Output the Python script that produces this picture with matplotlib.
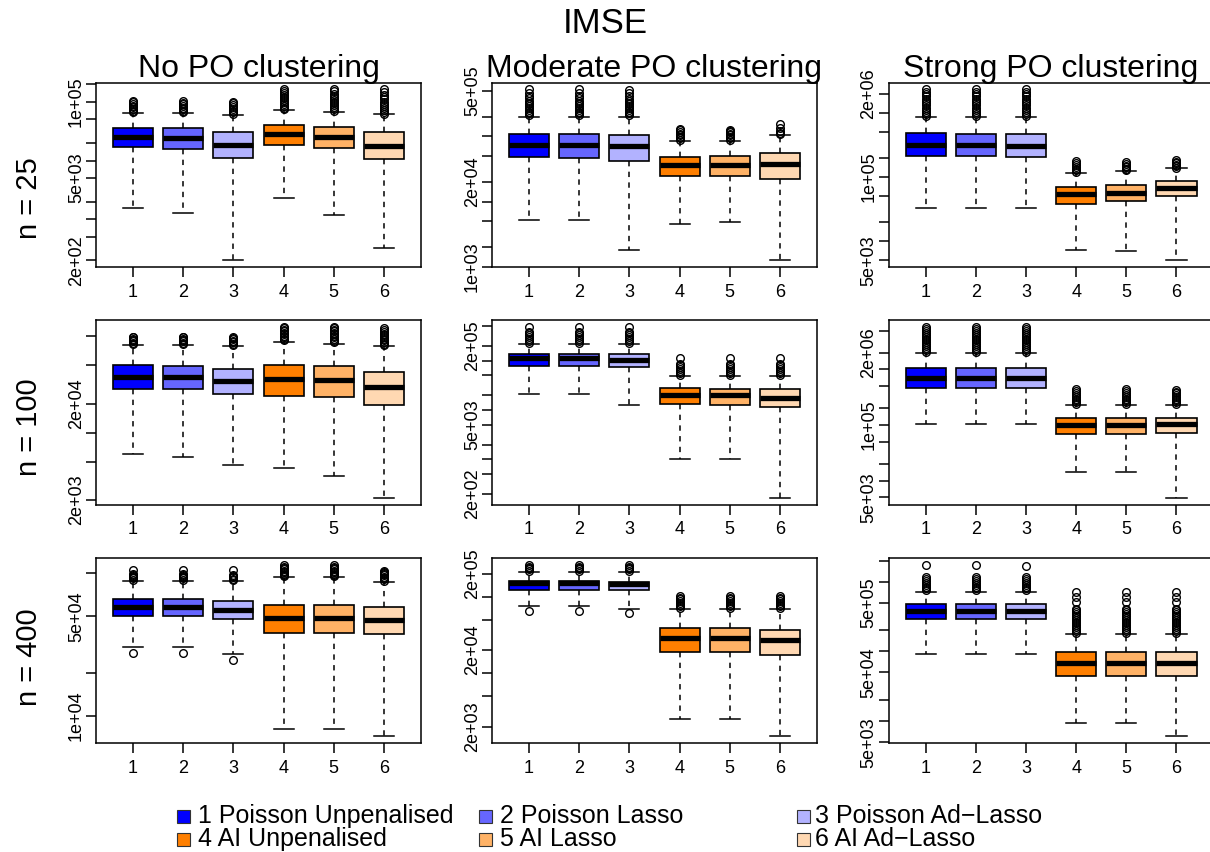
import numpy as np
import matplotlib
matplotlib.use("Agg")
import matplotlib.pyplot as plt
from matplotlib.patches import Rectangle
from matplotlib.ticker import FixedLocator, FixedFormatter

plt.rcParams['font.family'] = ['Liberation Sans', 'DejaVu Sans']

# ---------- data (panels in row-major order) ----------
columns = ["No PO clustering", "Moderate PO clustering", "Strong PO clustering"]
rows = ["n = 25", "n = 100", "n = 400"]
methods = ["1 Poisson Unpenalised", "2 Poisson Lasso", "3 Poisson Ad\u2212Lasso",
           "4 AI Unpenalised", "5 AI Lasso", "6 AI Ad\u2212Lasso"]
colors = ["#0000FF", "#6666FF", "#B2B2FF", "#FF7F00", "#FFB266", "#FFD8B2"]

whisk_lo = [
    [1580, 1290, 200, 2340, 1170, 328],
    [5280, 5280, 1820, 4590, 4850, 1265],
    [32400, 32400, 32400, 7180, 7000, 5000],
    [6020, 5600, 4590, 4320, 3570, 2100],
    [20700, 20700, 12700, 1020, 1020, 168],
    [106000, 106000, 106000, 14000, 14000, 4900],
    [30700, 30700, 27000, 8070, 8070, 7250],
    [75600, 75600, 69700, 2520, 2520, 1500],
    [92000, 92000, 92000, 9570, 9570, 6150],
]
q1 = [
    [17100, 16000, 11100, 18300, 16400, 10800],
    [48700, 47000, 42300, 24400, 24400, 22500],
    [209000, 209000, 205000, 37900, 41700, 50600],
    [28600, 28600, 25000, 24000, 23600, 19500],
    [76000, 76000, 72600, 13000, 12600, 11500],
    [472000, 472000, 472000, 69700, 69700, 71500],
    [50000, 50000, 48200, 38300, 38300, 37400],
    [123000, 123000, 121000, 19000, 19000, 17200],
    [292000, 292000, 292000, 44100, 44100, 44100],
]
median = [
    [25600, 24600, 18700, 28100, 25600, 18000],
    [75000, 73400, 70000, 35900, 36800, 38100],
    [316000, 311000, 305000, 53700, 56300, 68200],
    [38300, 38000, 34500, 36200, 35300, 29700],
    [112000, 110000, 102000, 19700, 19700, 17600],
    [715000, 715000, 715000, 101000, 101000, 104000],
    [57800, 57800, 55700, 48500, 48500, 46900],
    [149000, 149000, 145000, 28700, 28700, 27300],
    [377000, 384000, 384000, 67700, 67700, 67700],
]
q3 = [
    [36300, 35500, 30400, 39900, 37800, 31100],
    [110000, 108000, 104000, 48700, 49200, 56000],
    [488000, 475000, 475000, 70000, 74300, 85900],
    [50500, 49800, 46300, 50500, 49800, 42700],
    [137000, 137000, 133000, 27300, 26800, 26100],
    [1080000, 1080000, 1080000, 136000, 136000, 136000],
    [65800, 65800, 64400, 60400, 60400, 58200],
    [160000, 160000, 158000, 38700, 38700, 37100],
    [470000, 470000, 470000, 98400, 98400, 98400],
]
whisk_hi = [
    [63700, 63700, 59700, 71600, 67900, 61300],
    [200000, 200000, 200000, 85400, 85400, 106000],
    [857000, 857000, 857000, 116000, 122000, 136000],
    [81100, 81100, 79300, 88600, 84500, 78700],
    [217000, 217000, 217000, 48400, 48400, 48400],
    [1990000, 1990000, 1990000, 226000, 226000, 226000],
    [88500, 88500, 87900, 93800, 93500, 86500],
    [212000, 212000, 212000, 68500, 68500, 68500],
    [711000, 711000, 711000, 176000, 176000, 176000],
]
outliers = [
    [[66000, 70000, 75000, 80000, 86000, 92000, 98000, 103000],
     [66000, 70000, 74000, 79000, 85000, 91000, 97000, 102000],
     [62000, 66000, 70000, 75000, 81000, 88000, 95000, 101000],
     [74000, 79000, 85000, 91000, 98000, 106000, 114000, 123000, 133000, 143000, 153000, 163000],
     [70000, 75000, 81000, 87000, 94000, 101000, 109000, 118000, 127000, 137000, 150000, 163000],
     [63000, 68000, 73000, 79000, 86000, 93000, 101000, 110000, 120000, 131000, 145000, 163000]],
    [[210000, 225000, 240000, 255000, 272000, 290000, 310000, 330000, 350000, 385000, 420000, 460000, 525000],
     [210000, 225000, 240000, 255000, 272000, 290000, 310000, 330000, 350000, 385000, 420000, 460000, 525000],
     [210000, 225000, 240000, 255000, 272000, 290000, 310000, 330000, 350000, 380000, 415000, 455000, 506000],
     [88000, 93000, 98000, 104000, 110000, 117000, 123000, 129000],
     [88000, 93000, 98000, 104000, 110000, 116000, 121000, 126000],
     [109000, 113000, 121000, 136000, 153000]],
    [[890000, 960000, 1040000, 1120000, 1210000, 1310000, 1420000, 1540000, 1670000, 1810000, 1960000, 2130000, 2330000],
     [890000, 960000, 1040000, 1120000, 1210000, 1310000, 1420000, 1540000, 1670000, 1810000, 1960000, 2130000, 2330000],
     [890000, 960000, 1040000, 1120000, 1210000, 1310000, 1420000, 1540000, 1670000, 1810000, 1960000, 2130000, 2330000],
     [120000, 127000, 135000, 144000, 154000, 164000, 175000],
     [126000, 133000, 141000, 150000, 160000, 171000],
     [140000, 147000, 155000, 163000, 172000, 181000]],
    [[83000, 86000, 89000, 92000, 95000, 98000, 99800],
     [83000, 86000, 89000, 92000, 95000, 98000, 99800],
     [81500, 84500, 87500, 90500, 94000, 97000, 99800],
     [91000, 94500, 98000, 102000, 106000, 110000, 114000, 118000, 122000, 126000],
     [87000, 90500, 94000, 98000, 102000, 106000, 110000, 114000, 118000, 122000, 126000],
     [81000, 84500, 88000, 91500, 95000, 99000, 103000, 107000, 112000, 117000, 122000]],
    [[230000, 250000, 275000, 300000, 330000, 360000, 380000, 480000],
     [230000, 250000, 275000, 300000, 330000, 360000, 380000, 480000],
     [230000, 250000, 275000, 300000, 330000, 360000, 380000, 480000],
     [52000, 57000, 62000, 68000, 74000, 80000, 87000, 110000],
     [52000, 57000, 62000, 68000, 74000, 80000, 87000, 110000],
     [52000, 57000, 62000, 68000, 74000, 80000, 87000, 112000]],
    [[2100000, 2270000, 2450000, 2650000, 2860000, 3090000, 3340000, 3600000, 3890000, 4200000, 4540000, 4900000, 5300000, 5860000],
     [2100000, 2270000, 2450000, 2650000, 2860000, 3090000, 3340000, 3600000, 3890000, 4200000, 4540000, 4900000, 5300000, 5860000],
     [2100000, 2270000, 2450000, 2650000, 2860000, 3090000, 3340000, 3600000, 3890000, 4200000, 4540000, 4900000, 5300000, 5860000],
     [240000, 260000, 280000, 300000, 325000, 350000, 380000, 410000, 440000],
     [240000, 260000, 280000, 300000, 325000, 350000, 380000, 410000, 440000],
     [240000, 260000, 280000, 300000, 325000, 350000, 375000, 400000, 427000]],
    [[27600, 90000, 92000, 94000, 96000, 98000, 99000, 105700],
     [27600, 90000, 92000, 94000, 96000, 98000, 99000, 105700],
     [24900, 89500, 91500, 93500, 95500, 97500, 105700],
     [95500, 97500, 99500, 101500, 104000, 106500, 109000, 111500, 114000],
     [95500, 97500, 99500, 101500, 104000, 106500, 109000, 111500, 114000],
     [88500, 90500, 92500, 94500, 96500, 98500, 100500, 102500, 104000]],
    [[65100, 218000, 228000, 238000, 248000, 259000],
     [65100, 218000, 228000, 238000, 248000, 259000],
     [61800, 218000, 228000, 238000, 248000, 259000],
     [71500, 75000, 79000, 83000, 87500, 92000, 97000, 102000],
     [71500, 75000, 79000, 83000, 87500, 92000, 97000, 102000],
     [71500, 75000, 79000, 83000, 87500, 92000, 97000, 102000]],
    [[750000, 800000, 850000, 900000, 960000, 1020000, 1090000, 1170000, 1720000],
     [750000, 800000, 850000, 900000, 960000, 1020000, 1090000, 1170000, 1720000],
     [750000, 800000, 850000, 900000, 960000, 1020000, 1090000, 1170000, 1680000],
     [186000, 198000, 210000, 223000, 237000, 252000, 268000, 285000, 303000, 322000, 342000, 364000, 387000, 411000, 512000, 604000, 711000],
     [186000, 198000, 210000, 223000, 237000, 252000, 268000, 285000, 303000, 322000, 342000, 364000, 387000, 411000, 512000, 604000, 711000],
     [186000, 198000, 210000, 223000, 237000, 252000, 268000, 285000, 303000, 322000, 342000, 364000, 387000, 411000, 512000, 604000, 711000]],
]
# y values that carry a label (the others only get a tick)
labelled_ticks = [
    [2e2, 5e3, 1e5], [1e3, 2e4, 5e5], [5e3, 1e5, 2e6],
    [2e3, 2e4], [2e2, 5e3, 2e5], [5e3, 1e5, 2e6],
    [1e4, 5e4], [2e3, 2e4, 2e5], [5e3, 5e4, 5e5],
]

# ---------- layout (pixels) ----------
W, H = 1210, 852
col_left = [96, 492, 888.6]
row_top = [82.5, 320, 558.3]
pw, ph = 325, 184.6

fig = plt.figure(figsize=(W / 100, H / 100), dpi=100)

for p in range(9):
    r, c = divmod(p, 3)
    ax = fig.add_axes([col_left[c] / W, 1 - (row_top[r] + ph) / H, pw / W, ph / H])
    stats = []
    for i in range(6):
        stats.append(dict(med=median[p][i], q1=q1[p][i], q3=q3[p][i],
                          whislo=whisk_lo[p][i], whishi=whisk_hi[p][i],
                          fliers=outliers[p][i]))
    bp = ax.bxp(stats, positions=range(1, 7), widths=0.8, patch_artist=True,
                capwidths=0.4,
                boxprops=dict(linewidth=1.2, edgecolor='black'),
                medianprops=dict(color='black', linewidth=3.8, solid_capstyle='butt'),
                whiskerprops=dict(color='black', linewidth=1.1, linestyle=(0, (3.5, 3.5))),
                capprops=dict(color='black', linewidth=1.1),
                flierprops=dict(marker='o', markerfacecolor='none', markeredgecolor='black',
                                markersize=5.5, markeredgewidth=1.0))
    for patch, col in zip(bp['boxes'], colors):
        patch.set_facecolor(col)

    ax.set_yscale('log')
    allv = whisk_lo[p] + whisk_hi[p] + [v for b in outliers[p] for v in b]
    lo, hi = np.log10(min(allv)), np.log10(max(allv))
    ext = 0.04 * (hi - lo)
    ax.set_ylim(10 ** (lo - ext), 10 ** (hi + ext))
    ax.set_xlim(0.26, 6.74)

    ymin, ymax = ax.get_ylim()
    ticks = []
    for k in range(int(np.floor(lo)) - 1, int(np.ceil(hi)) + 2):
        for m in (1, 2, 5):
            v = m * 10.0 ** k
            if ymin * 0.999 <= v <= ymax * 1.001:
                ticks.append(v)
    labs = [f"{v:.0e}" if any(abs(v - t) < 1e-6 * t for t in labelled_ticks[p]) else ""
            for v in ticks]
    ax.yaxis.set_major_locator(FixedLocator(ticks))
    ax.yaxis.set_major_formatter(FixedFormatter(labs))
    ax.yaxis.set_minor_locator(FixedLocator([]))
    ax.set_xticks(range(1, 7))
    ax.set_xticklabels([str(i) for i in range(1, 7)])
    for lab in ax.get_yticklabels():
        lab.set_rotation(90)
        lab.set_va('center')
    ax.tick_params(axis='both', direction='out', length=7, width=1.1, labelsize=13)
    ax.tick_params(axis='y', pad=1)
    ax.tick_params(axis='x', pad=5)
    for s in ax.spines.values():
        s.set_linewidth(1.1)

# titles
fig.text(605 / W, 1 - 33 / H, "IMSE", ha='center', va='baseline', fontsize=25)
for c, name in enumerate(columns):
    fig.text((col_left[c] + pw / 2) / W, 1 - 77 / H, name, ha='center', va='baseline', fontsize=23)
for yc, name in zip([198, 427, 657], rows):
    fig.text(29 / W, 1 - yc / H, name, rotation=90, ha='center', va='center', fontsize=21)

# legend
sq_x = [183, 485, 803]
txt_x = [198, 500, 815]
leg_y = [816, 839]
for i, (name, col) in enumerate(zip(methods, colors)):
    rr, cc = divmod(i, 3)
    s = 13
    fig.patches.append(Rectangle(((sq_x[cc] - s / 2) / W, 1 - (leg_y[rr] + s / 2) / H), s / W, s / H,
                                 transform=fig.transFigure, facecolor=col, edgecolor='#333333',
                                 linewidth=0.8))
    fig.text(txt_x[cc] / W, 1 - leg_y[rr] / H, name, ha='left', va='center', fontsize=18)

fig.savefig("out.png", dpi=100)
